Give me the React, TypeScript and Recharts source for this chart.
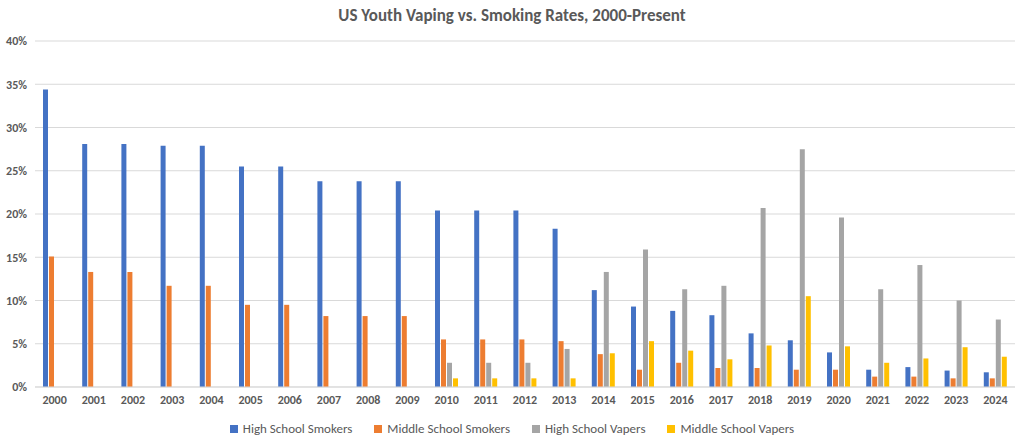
import { BarChart, Bar, XAxis, YAxis, CartesianGrid } from "recharts";

const years = [
  "2000", "2001", "2002", "2003", "2004", "2005", "2006", "2007", "2008", "2009", "2010", "2011", "2012",
  "2013", "2014", "2015", "2016", "2017", "2018", "2019", "2020", "2021", "2022", "2023", "2024",
];
const hsSmokers = [34.4, 28.1, 28.1, 27.9, 27.9, 25.5, 25.5, 23.8, 23.8, 23.8, 20.4, 20.4, 20.4, 18.3, 11.2, 9.3, 8.8, 8.3, 6.2, 5.4, 4.0, 2.0, 2.3, 1.9, 1.7];
const msSmokers = [15.1, 13.3, 13.3, 11.7, 11.7, 9.5, 9.5, 8.2, 8.2, 8.2, 5.5, 5.5, 5.5, 5.3, 3.8, 2.0, 2.8, 2.2, 2.2, 2.0, 2.0, 1.2, 1.2, 1.0, 1.0];
const hsVapers = [null, null, null, null, null, null, null, null, null, null, 2.8, 2.8, 2.8, 4.4, 13.3, 15.9, 11.3, 11.7, 20.7, 27.5, 19.6, 11.3, 14.1, 10.0, 7.8];
const msVapers = [null, null, null, null, null, null, null, null, null, null, 1.0, 1.0, 1.0, 1.0, 3.9, 5.3, 4.2, 3.2, 4.8, 10.5, 4.7, 2.8, 3.3, 4.6, 3.5];
const yTicks = [0, 5, 10, 15, 20, 25, 30, 35, 40];

const series = [
  { key: "hsSmokers", name: "High School Smokers", color: "#4472c4" },
  { key: "msSmokers", name: "Middle School Smokers", color: "#ed7d31" },
  { key: "hsVapers", name: "High School Vapers", color: "#a5a5a5" },
  { key: "msVapers", name: "Middle School Vapers", color: "#ffc000" },
];

const data = years.map((y, i) => ({
  year: y,
  hsSmokers: hsSmokers[i],
  msSmokers: msSmokers[i],
  hsVapers: hsVapers[i],
  msVapers: msVapers[i],
}));

const tickStyle = { fontSize: 12, fontWeight: 700, fill: "#595959" };

export default function App() {
  return (
    <div style={{ position: "absolute", left: 0, top: 0, width: 1024, height: 444, background: "#fff", fontFamily: "Carlito, 'Liberation Sans', sans-serif" }}>
      <div style={{ position: "absolute", top: 5, width: "100%", textAlign: "center", fontSize: 17, fontWeight: 700, color: "#595959" }}>
        US Youth Vaping vs. Smoking Rates, 2000-Present
      </div>
      <BarChart
        width={1024}
        height={444}
        data={data}
        margin={{ top: 41, right: 9, left: 0, bottom: 32 }}
        barSize={5}
        barGap={1}
      >
        <CartesianGrid vertical={false} stroke="#d9d9d9" />
        <XAxis dataKey="year" tick={tickStyle} tickLine={false} axisLine={{ stroke: "#d9d9d9" }} height={25} />
        <YAxis
          width={35}
          domain={[0, 40]}
          ticks={yTicks}
          tickFormatter={(v) => `${v}%`}
          tick={tickStyle}
          tickLine={false}
          axisLine={false}
        />
        {series.map((s) => (
          <Bar key={s.key} dataKey={s.key} name={s.name} fill={s.color} isAnimationActive={false} />
        ))}
      </BarChart>
      <div style={{ position: "absolute", top: 421, width: "100%", display: "flex", justifyContent: "center", gap: 22, fontSize: 13, color: "#595959" }}>
        {series.map((s) => (
          <span key={s.key} style={{ display: "flex", alignItems: "center", gap: 5 }}>
            <span style={{ width: 8, height: 8, background: s.color, display: "inline-block" }} />
            {s.name}
          </span>
        ))}
      </div>
    </div>
  );
}
